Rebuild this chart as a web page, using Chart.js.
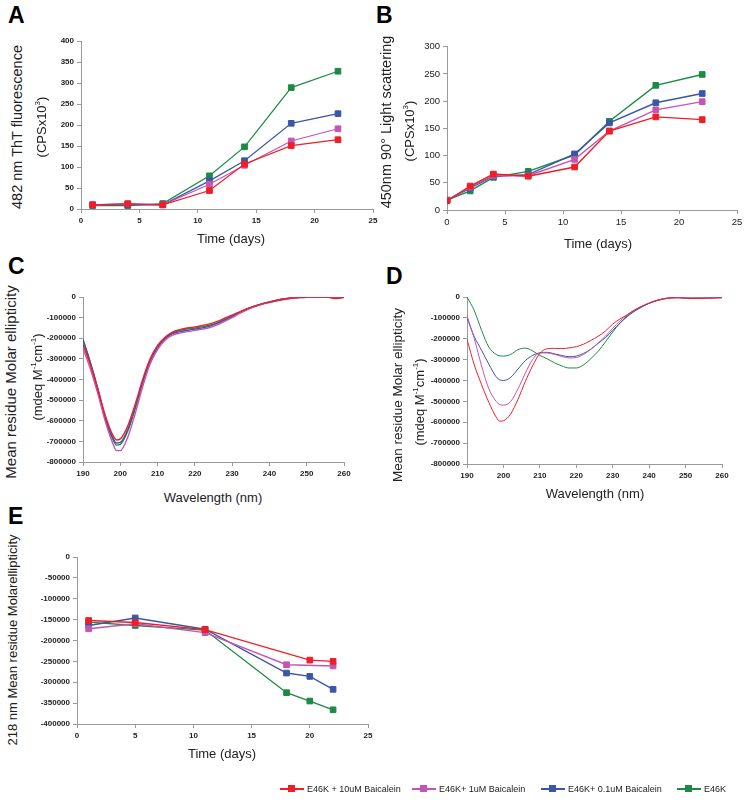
<!DOCTYPE html>
<html>
<head>
<meta charset="utf-8">
<script src="https://cdn.jsdelivr.net/npm/chart.js@4.4.1/dist/chart.umd.min.js"></script>
<style>
body{margin:0;background:#fff;font-family:'Liberation Sans',Arial,sans-serif;}
#fig{position:relative;width:745px;height:802px;overflow:hidden;background:#fff;}
canvas{position:absolute;}
.lbl{position:absolute;font-weight:bold;font-size:23px;line-height:1;color:#000;}
.t{position:absolute;white-space:nowrap;font-size:13px;color:#222;transform:translate(-50%,-50%);}
.t.v{transform:translate(-50%,-50%) rotate(-90deg);}
.t sup{font-size:8px;}
.lg{position:absolute;top:789px;font-size:9px;color:#222;white-space:nowrap;display:flex;align-items:center;transform:translateY(-50%);}
.lg i{display:inline-block;position:relative;width:24px;height:2px;margin-right:3px;}
.lg i b{position:absolute;left:8px;top:-3px;width:7px;height:7px;}
</style>
</head>
<body>
<div id="fig">
  <div class="lbl" style="left:8px;top:4px">A</div>
  <div class="lbl" style="left:376px;top:4px">B</div>
  <div class="lbl" style="left:8px;top:255px">C</div>
  <div class="lbl" style="left:386px;top:265px">D</div>
  <div class="lbl" style="left:8px;top:505px">E</div>

  <canvas id="chA"></canvas>
  <canvas id="chB"></canvas>
  <canvas id="chC"></canvas>
  <canvas id="chD"></canvas>
  <canvas id="chE"></canvas>

  <div class="t v" style="left:17px;top:127px;font-size:14.5px">482 nm ThT fluorescence</div>
  <div class="t v" style="left:41px;top:127px">(CPSx10<sup>3</sup>)</div>
  <div class="t" style="left:231px;top:238px">Time (days)</div>

  <div class="t v" style="left:386px;top:122px;font-size:14.5px">450nm 90° Light scattering</div>
  <div class="t v" style="left:409px;top:131px">(CPSx10<sup>3</sup>)</div>
  <div class="t" style="left:598px;top:243px">Time (days)</div>

  <div class="t v" style="left:10px;top:382px;font-size:15px">Mean residue Molar ellipticity</div>
  <div class="t v" style="left:37px;top:377px">(mdeq M<sup>-1</sup>cm<sup>-1</sup>)</div>
  <div class="t" style="left:213px;top:497px">Wavelength (nm)</div>

  <div class="t v" style="left:397px;top:395px;font-size:13.5px">Mean residue Molar ellipticity</div>
  <div class="t v" style="left:419px;top:402px">(mdeq M<sup>-1</sup>cm<sup>-1</sup>)</div>
  <div class="t" style="left:595px;top:493px">Wavelength (nm)</div>

  <div class="t v" style="left:12px;top:640px">218 nm Mean residue Molarellipticity</div>
  <div class="t" style="left:222px;top:753px">Time (days)</div>

  <div id="legend"></div>
</div>
<script>
const series = ['E46K + 10uM Baicalein', 'E46K+ 1uM Baicalein', 'E46K+ 0.1uM Baicalein', 'E46K'];
const colors = ['#ee1f26', '#c455b4', '#3a56a7', '#1c8a45'];

// A: ThT fluorescence (CPS x 10^3)
const daysA = [1, 4, 7, 11, 14, 18, 22];
const thtRed = [10, 12, 10, 44, 107, 151, 165];
const thtMag = [10, 13, 10, 59, 104, 162, 191];
const thtBlue = [10, 10, 10, 67, 115, 204, 227];
const thtGreen = [8, 8, 13, 79, 148, 289, 328];

// B: light scattering (CPS x 10^3)
const daysB = [0, 2, 4, 7, 11, 14, 18, 22];
const lsRed = [17, 44, 66, 62, 79, 145, 171, 166];
const lsMag = [18, 42, 63, 63, 93, 145, 184, 199];
const lsBlue = [18, 40, 62, 65, 103, 160, 197, 214];
const lsGreen = [18, 35, 60, 71, 101, 163, 229, 249];

// C, D: CD spectra
const wl = [190,192,194,196,198,199,200,202,204,206,208,210,212,214,216,218,220,222,224,226,228,230,232,234,236,238,240,242,244,246,248,250,252,254,256,258,260];
const cdRedC = [-230000,-330000,-450000,-575000,-670000,-693000,-688000,-625000,-520000,-400000,-300000,-235000,-195000,-170000,-158000,-150000,-145000,-138000,-130000,-118000,-103000,-88000,-72000,-57000,-44000,-33000,-25000,-17000,-10000,-5000,-2000,-1000,0,0,-2000,-8000,-2000];
const cdMagC = [-250000,-350000,-470000,-605000,-710000,-745000,-745000,-680000,-565000,-435000,-325000,-255000,-210000,-185000,-175000,-168000,-162000,-156000,-148000,-135000,-118000,-100000,-80000,-62000,-47000,-35000,-27000,-19000,-12000,-6000,-3000,-1000,0,0,-2000,-6000,-1000];
const cdBlueC = [-210000,-320000,-445000,-585000,-683000,-708000,-705000,-642000,-535000,-412000,-308000,-243000,-202000,-178000,-168000,-162000,-156000,-150000,-141000,-128000,-112000,-95000,-77000,-60000,-45000,-34000,-25000,-16000,-9000,-5000,-3000,-1000,0,0,0,-1000,0];
const cdGreenC = [-205000,-320000,-450000,-590000,-690000,-718000,-715000,-650000,-540000,-415000,-310000,-245000,-200000,-175000,-162000,-155000,-150000,-145000,-137000,-125000,-110000,-93000,-75000,-58000,-44000,-33000,-24000,-15000,-8000,-4000,-2000,-1000,0,0,0,0,0];

const cdRedD = [-203000,-325000,-420000,-505000,-575000,-595000,-593000,-560000,-490000,-405000,-330000,-270000,-248000,-246000,-247000,-244000,-238000,-226000,-208000,-188000,-163000,-130000,-105000,-85000,-62000,-45000,-30000,-17000,-8000,-4000,-4000,-6000,-7000,-7000,-6000,-5000,-3000];
const cdMagD = [-90000,-200000,-330000,-440000,-500000,-515000,-518000,-500000,-440000,-365000,-300000,-268000,-268000,-275000,-285000,-292000,-290000,-275000,-250000,-220000,-188000,-150000,-115000,-86000,-62000,-44000,-28000,-16000,-8000,-4000,-3000,-4000,-4000,-4000,-4000,-4000,-3000];
const cdBlueD = [-100000,-190000,-255000,-322000,-382000,-397000,-400000,-385000,-345000,-305000,-280000,-267000,-265000,-272000,-280000,-286000,-283000,-270000,-250000,-222000,-195000,-160000,-125000,-94000,-68000,-48000,-30000,-18000,-9000,-4000,-3000,-6000,-7000,-6000,-5000,-4000,-3000];
const cdGreenD = [0,-65000,-160000,-240000,-275000,-282000,-283000,-275000,-252000,-245000,-258000,-280000,-296000,-315000,-330000,-340000,-340000,-325000,-295000,-260000,-215000,-168000,-125000,-90000,-66000,-45000,-30000,-18000,-10000,-4000,-1000,0,0,0,0,0,-3000];

// E: 218 nm ellipticity over time
const daysE = [1, 5, 11, 18, 20, 22];
const e218Red = [-152000, -157000, -174000, null, -247000, -250000];
const e218Mag = [-172000, -160000, -181000, -258000, null, -261000];
const e218Blue = [-164000, -146000, -173000, -278000, -286000, -317000];
const e218Green = [-156000, -164000, -175000, -325000, -345000, -366000];

const YW = 50, XH = 22, PT = 8, PR = 12;
const pts = (xs, ys) => xs.map((x, i) => ({x, y: ys[i]})).filter(p => p.y !== null);

function markers(xs, ys, i, lw){
  return {label: series[i], data: pts(xs, ys), borderColor: colors[i], backgroundColor: colors[i],
    borderWidth: lw, pointStyle: 'rect', pointRadius: 4, pointBorderWidth: 1, tension: 0};
}
function curve(xs, ys, i, lw){
  return {label: series[i], data: pts(xs, ys), borderColor: colors[i], backgroundColor: colors[i],
    borderWidth: lw, pointRadius: 0, cubicInterpolationMode: 'monotone'};
}

function makePanel(id, g, datasets, sx, sy, font){
  const cv = document.getElementById(id);
  cv.width = YW + (g.r - g.l) + PR;
  cv.height = PT + (g.b - g.t) + XH;
  cv.style.left = (g.l - YW) + 'px';
  cv.style.top = (g.t - PT) + 'px';
  const axis = (s, isY) => ({
    type: 'linear', min: s.min, max: s.max,
    border: {color: '#9a9a9a', width: 1},
    grid: {display: true, drawOnChartArea: false, drawTicks: true, tickLength: 4, color: '#9a9a9a'},
    ticks: {stepSize: s.step, font, color: '#222', padding: 3, maxRotation: 0, autoSkip: false, callback: v => String(v)},
    afterFit: sc => { if (isY) sc.width = YW; else sc.height = XH; }
  });
  return new Chart(cv, {type: 'line', data: {datasets}, options: {
    responsive: false, animation: false, devicePixelRatio: 1,
    layout: {padding: {top: PT, right: PR, left: 0, bottom: 0}},
    plugins: {legend: {display: false}, tooltip: {enabled: false}},
    scales: {x: axis(sx, false), y: axis(sy, true)}
  }});
}

const fam = "'Liberation Sans', Arial, sans-serif";
const smallBold = {family: fam, size: 8, weight: 'bold'};

makePanel('chA', {l: 81, r: 373, t: 41, b: 209}, [
  markers(daysA, thtRed, 0, 1.2), markers(daysA, thtMag, 1, 1.2),
  markers(daysA, thtBlue, 2, 1.2), markers(daysA, thtGreen, 3, 1.2)
], {min: 0, max: 25, step: 5}, {min: 0, max: 400, step: 50}, smallBold);

makePanel('chB', {l: 447, r: 737, t: 46, b: 210}, [
  markers(daysB, lsRed, 0, 1.4), markers(daysB, lsMag, 1, 1.4),
  markers(daysB, lsBlue, 2, 1.4), markers(daysB, lsGreen, 3, 1.4)
], {min: 0, max: 25, step: 5}, {min: 0, max: 300, step: 50}, {family: fam, size: 9.5});

makePanel('chC', {l: 83, r: 344, t: 297, b: 462}, [
  curve(wl, cdRedC, 0, 1.4), curve(wl, cdMagC, 1, 1.4),
  curve(wl, cdBlueC, 2, 1.4), curve(wl, cdGreenC, 3, 1.4)
], {min: 190, max: 260, step: 10}, {min: -800000, max: 0, step: 100000}, smallBold);

makePanel('chD', {l: 467, r: 722, t: 297, b: 464}, [
  curve(wl, cdRedD, 0, 1), curve(wl, cdMagD, 1, 1),
  curve(wl, cdBlueD, 2, 1), curve(wl, cdGreenD, 3, 1)
], {min: 190, max: 260, step: 10}, {min: -800000, max: 0, step: 100000}, smallBold);

makePanel('chE', {l: 77, r: 368, t: 557, b: 724}, [
  markers(daysE, e218Red, 0, 1.4), markers(daysE, e218Mag, 1, 1.4),
  markers(daysE, e218Blue, 2, 1.4), markers(daysE, e218Green, 3, 1.4)
], {min: 0, max: 25, step: 5}, {min: -400000, max: 0, step: 50000}, smallBold);

// shared legend under panel E
const legendX = [280, 412, 541, 677];
document.getElementById('legend').innerHTML = series.map((s, i) =>
  `<div class="lg" style="left:${legendX[i]}px"><i style="background:${colors[i]}"><b style="background:${colors[i]}"></b></i>${s}</div>`
).join('');
</script>
</body>
</html>
